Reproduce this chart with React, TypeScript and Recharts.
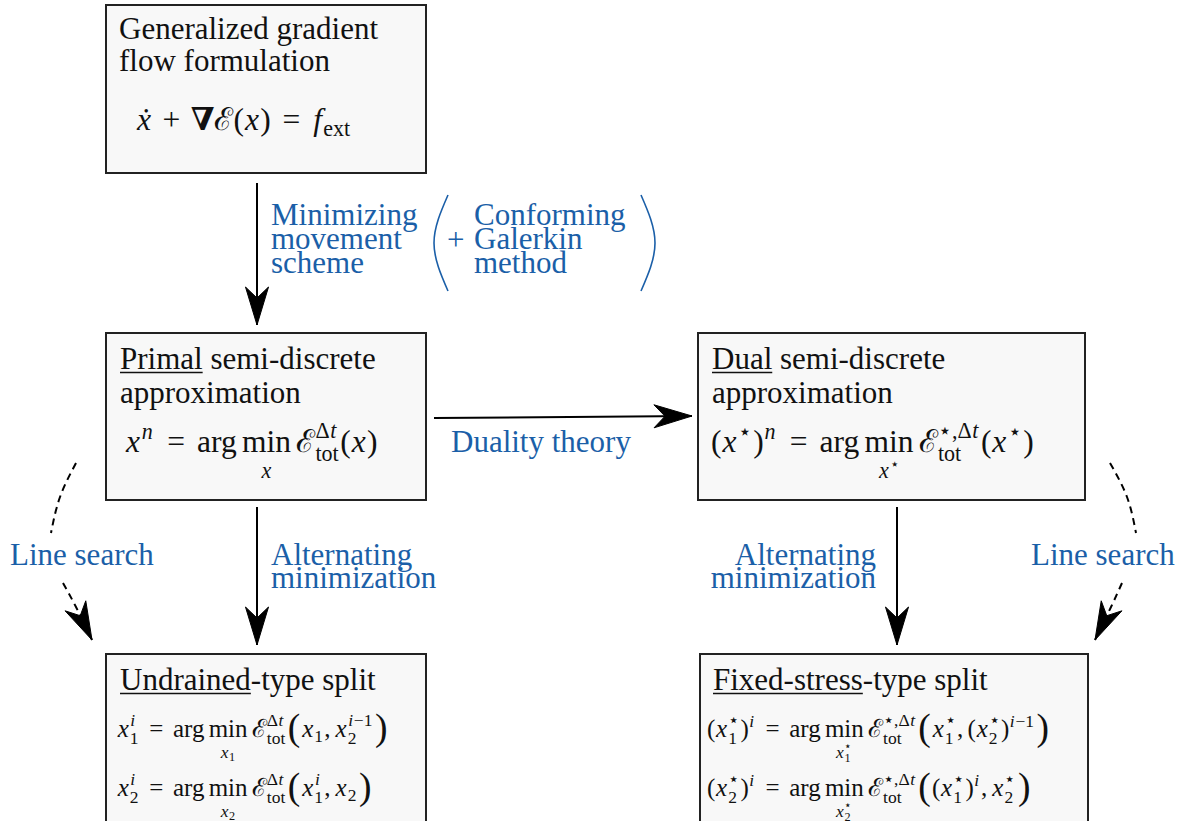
import React from "react";
import { ComposedChart, XAxis, YAxis, ReferenceArea, Line, Scatter } from "recharts";

// diagram coordinates: x to the right, y downwards, 1 unit = 1 px
const W = 1186;
const H = 821;
const FONT = '"Liberation Serif", "DejaVu Serif", serif';
const BLUE = "#1b5fa8";
const INK = "#111";

type Atom =
  | string
  | {
      txt?: string;
      u?: boolean;
      sup?: Atom[];
      sub?: Atom[];
      op?: string;
      under?: Atom[];
      big?: string;
      sp?: number;
    };

type Pt = { x: number; y: number };

const boxes = [
  { x1: 106, x2: 426, y1: 5, y2: 173 },
  { x1: 106, x2: 426, y1: 333, y2: 500 },
  { x1: 698, x2: 1085, y1: 333, y2: 500 },
  { x1: 106, x2: 426, y1: 654, y2: 840 },
  { x1: 700, x2: 1088, y1: 654, y2: 840 },
];

const boxTitles = [
  { x: 119, y: 39, atoms: [{ txt: "Generalized gradient" }] as Atom[] },
  { x: 119, y: 71, atoms: [{ txt: "flow formulation" }] as Atom[] },
  { x: 120, y: 369, atoms: [{ txt: "Primal", u: true }, { txt: " semi-discrete" }] as Atom[] },
  { x: 120, y: 403, atoms: [{ txt: "approximation" }] as Atom[] },
  { x: 712, y: 369, atoms: [{ txt: "Dual", u: true }, { txt: " semi-discrete" }] as Atom[] },
  { x: 712, y: 403, atoms: [{ txt: "approximation" }] as Atom[] },
  { x: 120, y: 690, atoms: [{ txt: "Undrained", u: true }, { txt: "-type split" }] as Atom[] },
  { x: 713, y: 690, atoms: [{ txt: "Fixed-stress", u: true }, { txt: "-type split" }] as Atom[] },
];

const tot = { sup: ["{Δ}t"], sub: ["{tot}"] };
const totStar = { sup: ["⋆,{Δ}t"], sub: ["{tot}"] };
const thin = { sp: 0.17 };

const boxFormulas = [
  { x: 136, y: 130, atoms: ["ẋ+", "∇", "{ℰ}(x)=f", { sub: ["{ext}"] }] as Atom[] },
  {
    x: 125,
    y: 452,
    atoms: ["x", { sup: ["n"] }, "={arg}", thin, { op: "min", under: ["x"] }, thin, "{ℰ}", tot, "(x)"] as Atom[],
  },
  {
    x: 711,
    y: 452,
    atoms: [
      "(x", { sup: ["⋆"] }, ")", { sup: ["n"] }, "={arg}", thin,
      { op: "min", under: ["x", { sup: ["⋆"] }] }, thin, "{ℰ}", totStar,
      "(x", { sup: ["⋆"] }, ")",
    ] as Atom[],
  },
];

const splitFormulas = [
  {
    x: 117,
    y: 737,
    atoms: [
      "x", { sup: ["i"], sub: ["1"] }, "={arg}", thin, { op: "min", under: ["x", { sub: ["1"] }] }, thin,
      "{ℰ}", tot, { big: "(" }, "x", { sub: ["1"] }, ",", thin, "x", { sup: ["i−1"], sub: ["2"] }, { big: ")" },
    ] as Atom[],
  },
  {
    x: 117,
    y: 796,
    atoms: [
      "x", { sup: ["i"], sub: ["2"] }, "={arg}", thin, { op: "min", under: ["x", { sub: ["2"] }] }, thin,
      "{ℰ}", tot, { big: "(" }, "x", { sup: ["i"], sub: ["1"] }, ",", thin, "x", { sub: ["2"] }, { big: ")" },
    ] as Atom[],
  },
  {
    x: 707,
    y: 737,
    atoms: [
      "(x", { sup: ["⋆"], sub: ["1"] }, ")", { sup: ["i"] }, "={arg}", thin,
      { op: "min", under: ["x", { sup: ["⋆"], sub: ["1"] }] }, thin, "{ℰ}", totStar,
      { big: "(" }, "x", { sup: ["⋆"], sub: ["1"] }, ",", thin, "(x", { sup: ["⋆"], sub: ["2"] }, ")", { sup: ["i−1"] },
      { big: ")" },
    ] as Atom[],
  },
  {
    x: 707,
    y: 796,
    atoms: [
      "(x", { sup: ["⋆"], sub: ["2"] }, ")", { sup: ["i"] }, "={arg}", thin,
      { op: "min", under: ["x", { sup: ["⋆"], sub: ["2"] }] }, thin, "{ℰ}", totStar,
      { big: "(" }, "(x", { sup: ["⋆"], sub: ["1"] }, ")", { sup: ["i"] }, ",", thin, "x", { sup: ["⋆"], sub: ["2"] },
      { big: ")" },
    ] as Atom[],
  },
];

const blueLabels = [
  { x: 271, y: 225, text: "Minimizing" },
  { x: 271, y: 249, text: "movement" },
  { x: 271, y: 273, text: "scheme" },
  { x: 447, y: 250, text: "+" },
  { x: 474, y: 225, text: "Conforming" },
  { x: 474, y: 249, text: "Galerkin" },
  { x: 474, y: 273, text: "method" },
  { x: 451, y: 452, text: "Duality theory" },
  { x: 271, y: 565, text: "Alternating" },
  { x: 271, y: 588, text: "minimization" },
  { x: 10, y: 565, text: "Line search" },
  { x: 1031, y: 565, text: "Line search" },
];

const blueLabelsRight = [
  { x: 876, y: 565, text: "Alternating" },
  { x: 876, y: 588, text: "minimization" },
];

const solidArrows: Pt[][] = [
  [{ x: 257, y: 183 }, { x: 257, y: 325 }],
  [{ x: 434, y: 418 }, { x: 692, y: 416 }],
  [{ x: 257, y: 507 }, { x: 257, y: 645 }],
  [{ x: 897, y: 507 }, { x: 897, y: 645 }],
];

const dashedArcs: Pt[][] = [
  [{ x: 76, y: 463 }, { x: 60, y: 497 }, { x: 51, y: 533 }],
  [{ x: 1110, y: 463 }, { x: 1127, y: 497 }, { x: 1136, y: 533 }],
];

const dashedArrows: Pt[][] = [
  [{ x: 63, y: 583 }, { x: 76, y: 607 }, { x: 92, y: 640 }],
  [{ x: 1122, y: 583 }, { x: 1111, y: 607 }, { x: 1095, y: 640 }],
];

const parens: Pt[][] = [
  [{ x: 448, y: 195 }, { x: 434, y: 243 }, { x: 448, y: 291 }],
  [{ x: 641, y: 195 }, { x: 655, y: 243 }, { x: 641, y: 291 }],
];

let ctx: CanvasRenderingContext2D | null = null;
function measure(t: string, size: number, it: boolean, b: boolean) {
  if (!ctx) ctx = document.createElement("canvas").getContext("2d");
  if (!ctx) return t.length * size * 0.5;
  ctx.font = `${it ? "italic " : ""}${b ? "bold " : ""}${size}px ${FONT}`;
  return ctx.measureText(t).width;
}

type Run = { t: string; it: boolean; b: boolean; rel: boolean };
// letters are italic unless inside {}, relations / binary ops get their own run
function parse(s: string): Run[] {
  const runs: Run[] = [];
  let roman = false;
  for (const ch of s) {
    if (ch === "{") { roman = true; continue; }
    if (ch === "}") { roman = false; continue; }
    const it = !roman && /[A-Za-zẋ]/.test(ch);
    const b = ch === "∇";
    const rel = ch === "=" || ch === "+";
    const last = runs[runs.length - 1];
    if (!rel && last && !last.rel && last.it === it && last.b === b) last.t += ch;
    else runs.push({ t: ch, it, b, rel });
  }
  return runs;
}

function put(out: React.ReactElement[], t: string, x: number, y: number, size: number, it: boolean, b: boolean, fill: string) {
  out.push(
    <text
      key={out.length}
      x={x}
      y={y}
      fontSize={size}
      fontFamily={FONT}
      fontStyle={it ? "italic" : "normal"}
      fontWeight={b ? "bold" : "normal"}
      fill={fill}
      style={{ whiteSpace: "pre" }}
    >
      {t}
    </text>
  );
}

// lays a list of atoms out on a baseline, returns the width used
function layout(atoms: Atom[], size: number, x0: number, y: number, out: React.ReactElement[], fill: string, top = true): number {
  let x = x0;
  for (const a of atoms) {
    if (typeof a === "string") {
      for (const r of parse(a)) {
        if (r.rel) {
          const pad = top ? size * (r.t === "=" ? 0.38 : 0.33) : size * 0.05;
          put(out, r.t, x + pad, y, size, false, false, fill);
          x += measure(r.t, size, false, false) + 2 * pad;
        } else if (r.it) {
          for (const ch of r.t) {
            put(out, ch, x + size * 0.03, y, size, true, false, fill);
            x += measure(ch, size, true, false) + size * 0.07;
          }
        } else {
          put(out, r.t, x, y, size, false, r.b, fill);
          x += measure(r.t, size, false, r.b);
        }
      }
    } else if (a.txt !== undefined) {
      const w = measure(a.txt, size, false, false);
      put(out, a.txt, x, y, size, false, false, fill);
      if (a.u) out.push(<line key={out.length} x1={x} x2={x + w} y1={y + 3.5} y2={y + 3.5} stroke={fill} strokeWidth={1.3} />);
      x += w;
    } else if (a.sp) {
      x += a.sp * size;
    } else if (a.big) {
      const s = size * 1.5;
      x += size * 0.05;
      put(out, a.big, x, y + size * 0.13, s, false, false, fill);
      x += measure(a.big, s, false, false) + size * 0.05;
    } else if (a.op) {
      const s2 = size * 0.7;
      const wOp = measure(a.op, size, false, false);
      const wUn = a.under ? layout(a.under, s2, 0, 0, [], fill, false) : 0;
      const wMax = Math.max(wOp, wUn);
      put(out, a.op, x + (wMax - wOp) / 2, y, size, false, false, fill);
      if (a.under) layout(a.under, s2, x + (wMax - wUn) / 2, y + size * 0.82, out, fill, false);
      x += wMax;
    } else if (a.sup || a.sub) {
      const s2 = size * 0.7;
      const both = a.sup && a.sub;
      let w1 = 0;
      let w2 = 0;
      if (a.sup) w1 = layout(a.sup, s2, x, y - size * (both ? 0.44 : 0.42), out, fill, false);
      if (a.sub) w2 = layout(a.sub, s2, x, y + size * (both ? 0.27 : 0.2), out, fill, false);
      x += Math.max(w1, w2) + size * 0.05;
    }
  }
  return x - x0;
}

function atomShape(size: number, fill: string) {
  return (p: any) => {
    const out: React.ReactElement[] = [];
    layout(p.payload.atoms, size, p.cx, p.cy, out, fill);
    return <g>{out}</g>;
  };
}

function labelShape(anchor: "start" | "end") {
  return (p: any) => (
    <text x={p.cx} y={p.cy} fontSize={31} fontFamily={FONT} fill={BLUE} textAnchor={anchor}>
      {p.payload.text}
    </text>
  );
}

function arrowHead(pts: Pt[]) {
  const n = pts.length;
  const ang = Math.atan2(pts[n - 1].y - pts[n - 2].y, pts[n - 1].x - pts[n - 2].x);
  return (p: any) => {
    if (p.index !== n - 1) return <g key={p.index} />;
    const L = 38;
    const hw = 11.5;
    const inset = 11;
    const c = Math.cos(ang);
    const s = Math.sin(ang);
    const tr = ([u, v]: number[]) => `${p.cx + u * c - v * s},${p.cy + u * s + v * c}`;
    const d = `M${tr([0, 0])} L${tr([-L, -hw])} L${tr([-L + inset, 0])} L${tr([-L, hw])} Z`;
    return <path key={p.index} d={d} fill="#000" stroke="#000" strokeWidth={1} strokeLinejoin="miter" />;
  };
}

export default function App() {
  return (
    <div style={{ position: "absolute", left: 0, top: 0, background: "#fff" }}>
      <ComposedChart width={W} height={H} margin={{ top: 0, right: 0, bottom: 0, left: 0 }}>
        <XAxis type="number" dataKey="x" domain={[0, W]} allowDataOverflow hide />
        <YAxis type="number" dataKey="y" domain={[0, H]} allowDataOverflow reversed hide width={0} />
        {boxes.map((b, i) => (
          <ReferenceArea
            key={`box${i}`}
            x1={b.x1}
            x2={b.x2}
            y1={b.y1}
            y2={b.y2}
            ifOverflow="visible"
            fill="#f8f8f8"
            fillOpacity={1}
            stroke="#222"
            strokeWidth={2}
          />
        ))}
        {solidArrows.map((pts, i) => (
          <Line
            key={`sa${i}`}
            data={pts}
            dataKey="y"
            type="linear"
            stroke="#000"
            strokeWidth={2}
            dot={arrowHead(pts)}
            activeDot={false}
            isAnimationActive={false}
          />
        ))}
        {dashedArcs.map((pts, i) => (
          <Line
            key={`da${i}`}
            data={pts}
            dataKey="y"
            type="natural"
            stroke="#000"
            strokeWidth={2}
            strokeDasharray="7 5"
            dot={false}
            activeDot={false}
            isAnimationActive={false}
          />
        ))}
        {dashedArrows.map((pts, i) => (
          <Line
            key={`dh${i}`}
            data={pts}
            dataKey="y"
            type="natural"
            stroke="#000"
            strokeWidth={2}
            strokeDasharray="7 5"
            dot={arrowHead(pts)}
            activeDot={false}
            isAnimationActive={false}
          />
        ))}
        {parens.map((pts, i) => (
          <Line
            key={`pa${i}`}
            data={pts}
            dataKey="y"
            type="natural"
            stroke={BLUE}
            strokeWidth={1.6}
            dot={false}
            activeDot={false}
            isAnimationActive={false}
          />
        ))}
        <Scatter data={boxTitles} dataKey="y" shape={atomShape(31, INK)} isAnimationActive={false} />
        <Scatter data={boxFormulas} dataKey="y" shape={atomShape(31.5, INK)} isAnimationActive={false} />
        <Scatter data={splitFormulas} dataKey="y" shape={atomShape(25, INK)} isAnimationActive={false} />
        <Scatter data={blueLabels} dataKey="y" shape={labelShape("start")} isAnimationActive={false} />
        <Scatter data={blueLabelsRight} dataKey="y" shape={labelShape("end")} isAnimationActive={false} />
      </ComposedChart>
    </div>
  );
}
